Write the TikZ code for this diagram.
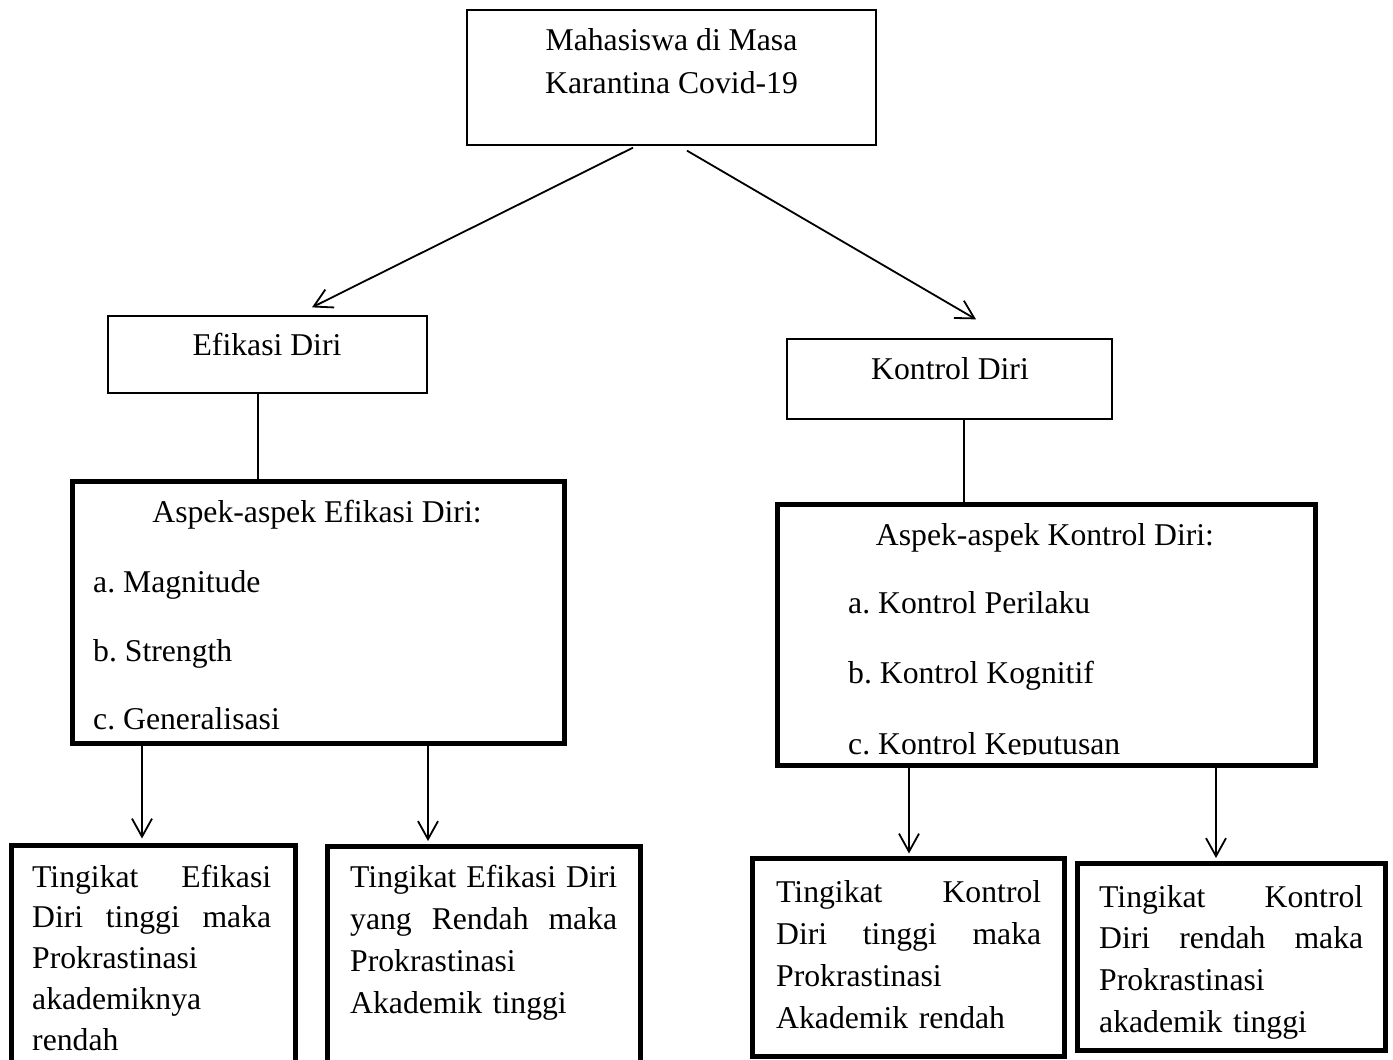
\documentclass[tikz,border=0pt]{standalone}
\usepackage{fontspec}
\setmainfont{Liberation Serif}
\usetikzlibrary{arrows.meta,calc}
\newcommand{\jline}[2]{\makebox[#1][l]{#2}}
\frenchspacing
\begin{document}
\begin{tikzpicture}[x=1pt,y=-1pt,
  thinbox/.style={draw, line width=1.3pt, inner sep=0pt},
  thickbox/.style={draw, line width=5pt, inner sep=0pt},
  txt/.style={inner sep=0pt, font=\fontsize{31.7}{41.7}\selectfont},
  para/.style={inner sep=0pt, anchor=north west, align=left},
  conn/.style={line width=1.7pt},
  arr/.style={line width=1.8pt, -{Straight Barb[length=18pt,width=20pt]}}]
\useasboundingbox (0,0) rectangle (1393,1060);

% boxes
\node[thinbox, minimum width=409pt, minimum height=135pt] (top) at (671.5,77.5) {};
\node[thinbox, minimum width=319pt, minimum height=77pt] (efi) at (267.5,354.5) {};
\node[thinbox, minimum width=325pt, minimum height=80pt] (kon) at (949.5,379) {};
\node[thickbox, minimum width=492pt, minimum height=262pt] (aefi) at (318,612) {};
\node[thickbox, minimum width=538pt, minimum height=261pt] (akon) at (1046,634.5) {};
\node[thickbox, minimum width=284pt, minimum height=235pt] (b1) at (153,962.5) {};
\node[thickbox, minimum width=313pt, minimum height=234pt] (b2) at (483.5,963) {};
\node[thickbox, minimum width=312pt, minimum height=198pt] (b3) at (908,957) {};
\node[thickbox, minimum width=308pt, minimum height=187pt] (b4) at (1231,956.5) {};

% texts
\node[txt, anchor=base] (t1) at (671.5,50) {Mahasiswa di Masa};
\node[txt, anchor=base] (t2) at (671.5,93) {Karantina Covid-19};
\node[txt, anchor=base] (te) at (267,355) {Efikasi Diri};
\node[txt, anchor=base] (tk) at (950,379) {Kontrol Diri};

\node[txt, anchor=base] (ae0) at (317,522) {Aspek-aspek Efikasi Diri:};
\node[txt, anchor=base west] (ae1) at (93,592) {a. Magnitude};
\node[txt, anchor=base west] (ae2) at (93,661) {b. Strength};
\node[txt, anchor=base west] (ae3) at (93,729) {c. Generalisasi};

\node[txt, anchor=base] (ak0) at (1045,545) {Aspek-aspek Kontrol Diri:};
\node[txt, anchor=base west] (ak1) at (848,613) {a. Kontrol Perilaku};
\node[txt, anchor=base west] (ak2) at (848,683) {b. Kontrol Kognitif};
\begin{scope}
\clip (780,700) rectangle (1312,754);
\node[txt, anchor=base west] (ak3) at (848,754) {c. Kontrol Keputusan};
\end{scope}

\node[para, text width=239pt, font=\fontsize{31.7}{40.8}\selectfont] (p1) at (32,858.4)
  {\strut\jline{239pt}{Tingikat\hfill Efikasi}\\\jline{239pt}{Diri\hfill tinggi\hfill maka}\\Prokrastinasi\\akademiknya\\rendah};
\node[para, text width=267pt, font=\fontsize{31.7}{42}\selectfont] (p2) at (350,857.6)
  {\strut\jline{267pt}{Tingikat\hfill Efikasi\hfill Diri}\\\jline{267pt}{yang\hfill Rendah\hfill maka}\\Prokrastinasi\\Akademik tinggi};
\node[para, text width=265pt, font=\fontsize{31.7}{42}\selectfont] (p3) at (776,872.6)
  {\strut\jline{265pt}{Tingikat\hfill Kontrol}\\\jline{265pt}{Diri\hfill tinggi\hfill maka}\\Prokrastinasi\\Akademik rendah};
\node[para, text width=264pt, font=\fontsize{31.7}{41.7}\selectfont] (p4) at (1099,877.8)
  {\strut\jline{264pt}{Tingikat\hfill Kontrol}\\\jline{264pt}{Diri\hfill rendah\hfill maka}\\Prokrastinasi\\akademik tinggi};

% connectors
\draw[arr] ([xshift=-38.5pt,yshift=-2pt]top.south) -- ([xshift=44.5pt,yshift=8pt]efi.north);
\draw[arr] ([xshift=15.5pt,yshift=-5pt]top.south) -- ([xshift=26.5pt,yshift=19pt]kon.north);
\draw[conn] ([xshift=-9.5pt]efi.south) -- ([xshift=-60pt]aefi.north);
\draw[conn] ([xshift=14.5pt]kon.south) -- ([xshift=-82pt]akon.north);
\draw[arr] ([xshift=-176pt]aefi.south) -- ([xshift=-11pt,yshift=4pt]b1.north);
\draw[arr] ([xshift=110pt]aefi.south) -- ([xshift=-55.5pt,yshift=2.5pt]b2.north);
\draw[arr] ([xshift=-137pt]akon.south) -- ([xshift=1pt,yshift=2pt]b3.north);
\draw[arr] ([xshift=170pt]akon.south) -- ([xshift=-15pt,yshift=2.5pt]b4.north);
\end{tikzpicture}
\end{document}
